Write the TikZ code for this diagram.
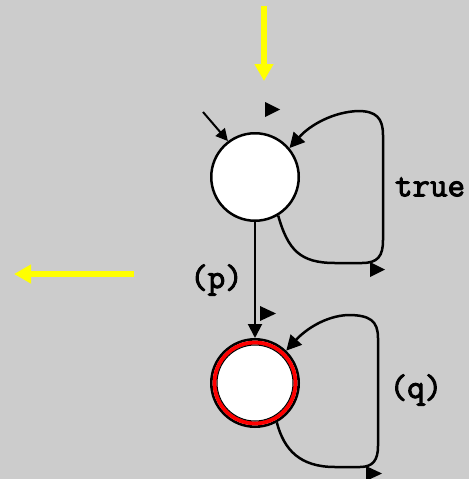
\documentclass[tikz,border=0pt]{standalone}
\usepackage{fontspec}
\newfontfamily\lblfont[FakeBold=3]{Latin Modern Mono}
\usetikzlibrary{arrows.meta}
\definecolor{bggray}{HTML}{CCCCCC}
\definecolor{ylw}{HTML}{FFFF00}
\definecolor{ringred}{HTML}{FF0000}
\tikzset{
  stnode/.style={circle, fill=white, draw=black, line width=2.5pt, minimum size=87.5pt, inner sep=0pt},
  edge/.style={draw=black, line width=2.5pt, -{Triangle[width=15pt,length=15pt]}},
  thinedge/.style={draw=black, line width=2pt, -{Triangle[width=14pt,length=14pt]}},
  bigarrow/.style={draw=ylw, line width=6pt, -{Triangle[width=18pt,length=17pt]}},
  lbl/.style={font=\fontsize{34}{34}\selectfont\lblfont, inner sep=0pt},
  marker/.style={fill=black}
}
\begin{document}
\begin{tikzpicture}[x=1pt,y=-1pt]
\useasboundingbox (0,0) rectangle (469,479);
\fill[bggray] (0,0) rectangle (469,479);

% yellow arrows
\coordinate (ya1) at (264,6);
\coordinate (ya2) at (264,81);
\draw[bigarrow] (ya1) -- (ya2);
\coordinate (yb1) at (134,274);
\coordinate (yb2) at (14,274);
\draw[bigarrow] (yb1) -- (yb2);

% states
\node[stnode] (n1) at (255,177) {};
\node[circle, fill=white, draw=black, line width=2.6pt, minimum size=87.4pt, inner sep=0pt] (n2) at (255,383) {};
\draw[ringred, line width=4pt] (n2.center) circle[radius=40.4pt];
\draw[black, line width=1pt] (n2.center) circle[radius=38pt];

% initial arrow
\coordinate (s0) at (203,112);
\draw[thinedge, -{Triangle[width=12pt,length=12pt]}] (s0) -- (n1.127);

% transition p
\draw[thinedge] (n1.south) -- (n2.north);

% self loops
\draw[edge] (n1.-59) .. controls (288,250) and (300,263) .. (335,263) -- (362,263)
  .. controls (378,263) and (383,256) .. (383,240) -- (383,135)
  .. controls (383,118) and (376,111) .. (358,111)
  .. controls (333,112) and (310,125) .. (n1.40);
\draw[edge] (n2.-61) .. controls (284,450) and (300,467) .. (335,467) -- (360,467)
  .. controls (373,467) and (378,460) .. (378,446) -- (378,338)
  .. controls (378,321) and (370,315) .. (348,315)
  .. controls (325,316) and (305,330) .. (n2.46);

% small markers
\fill[marker] (265,102) -- (265,117) -- (280,109.5) -- cycle;
\fill[marker] (260,306) -- (260,321) -- (276,313.5) -- cycle;
\fill[marker] (370,262) -- (370,277) -- (385,269.5) -- cycle;
\fill[marker] (366,466) -- (366,481) -- (382,473.5) -- cycle;

% labels
\node[lbl] (lt) at (430,187) {true};
\node[lbl] (lp) at (216.5,280) {(p)};
\node[lbl] (lq) at (416,390) {(q)};
\end{tikzpicture}
\end{document}
